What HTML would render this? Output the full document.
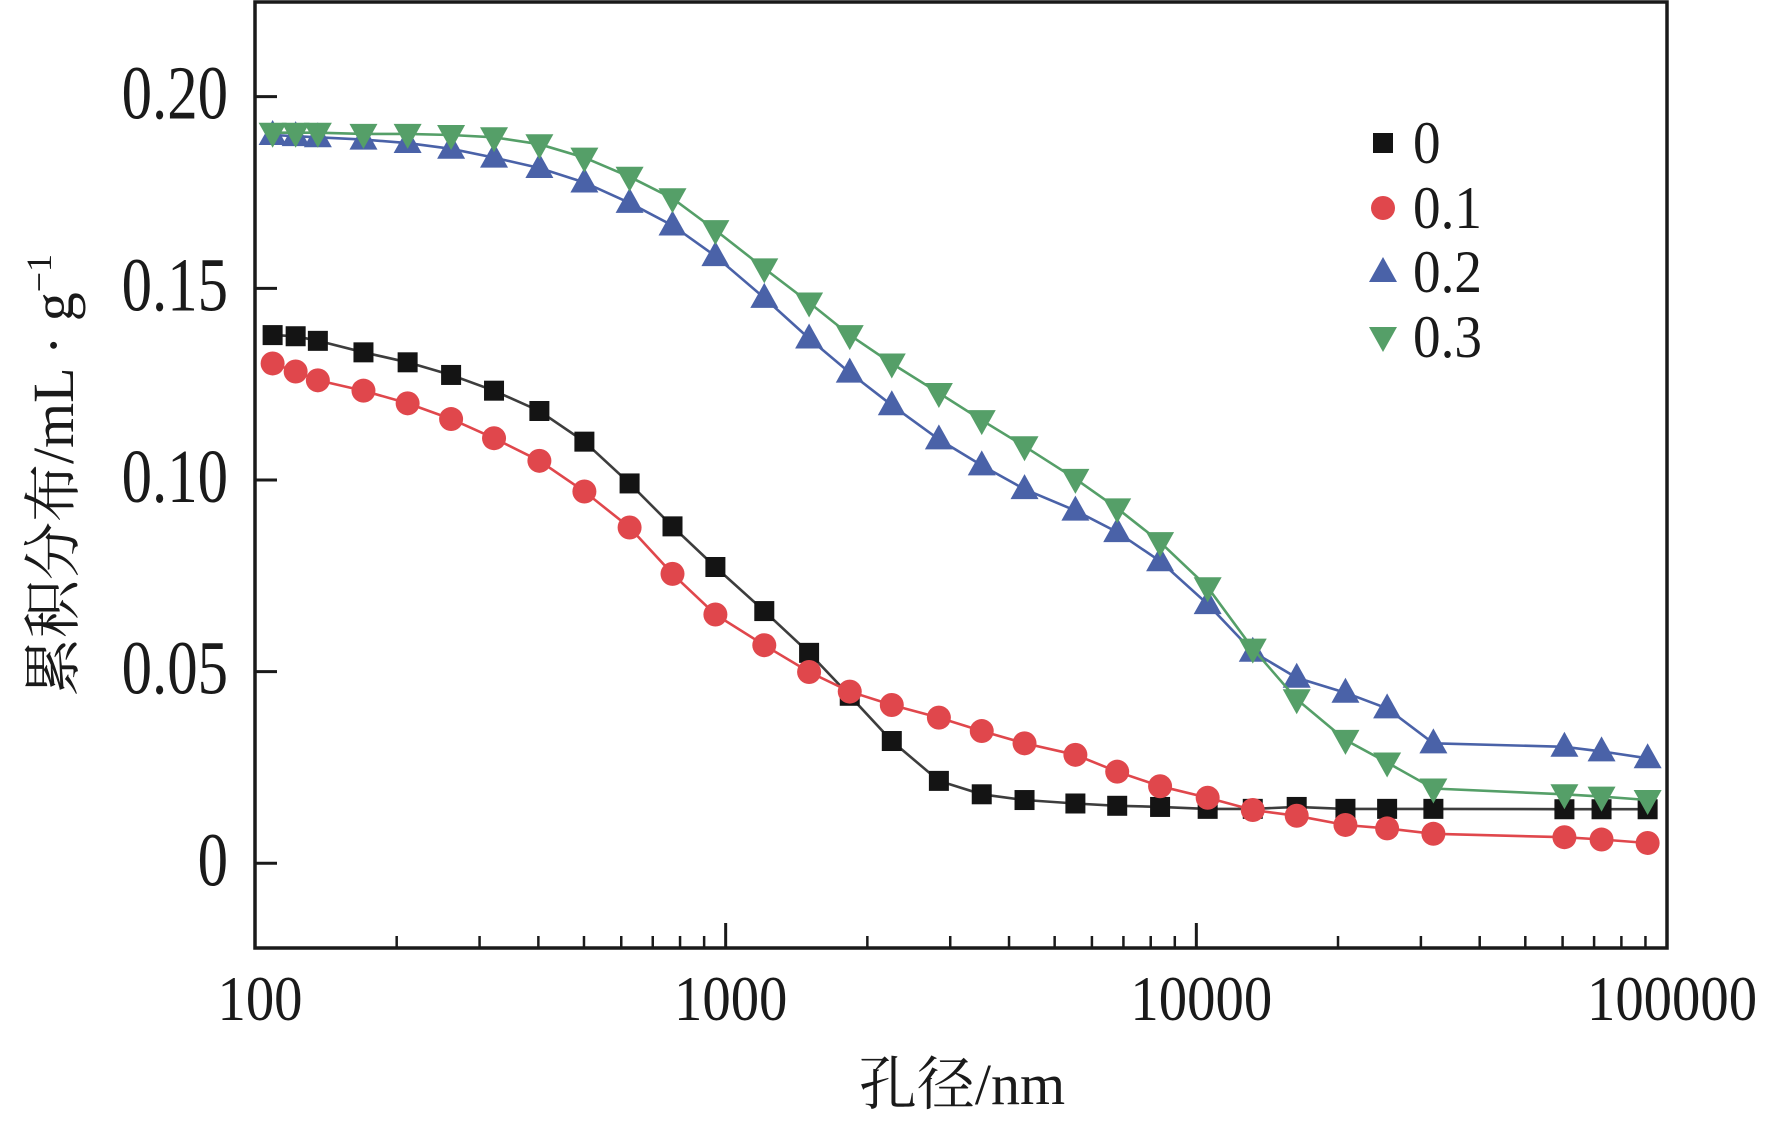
<!DOCTYPE html>
<html><head><meta charset="utf-8"><style>
html,body{margin:0;padding:0;background:#fff;}
svg text{font-family:"Liberation Serif","Noto Serif CJK SC",serif;fill:#1a1a1a;}
</style></head><body>
<svg id="chart" width="1771" height="1121" viewBox="0 0 1771 1121" xmlns="http://www.w3.org/2000/svg">
<g id="marks"></g>
<g id="axes"></g>
</svg>
<script>
const poreSizes=[109,122,136,170,211,261,322,402,501,625,771,951,1208,1504,1835,2254,2838,3500,4315,5534,6790,8375,10570,13180,16340,20740,25430,31890,60540,72600,90960];
const series0=[.1378,.1375,.1363,.1333,.1307,.1274,.1233,.118,.110,.0991,.0879,.0773,.0658,.0549,.0437,.0319,.0215,.018,.0165,.0156,.015,.0147,.0142,.0142,.0147,.0142,.0142,.0142,.0141,.0141,.0141];
const series01=[.1304,.1283,.126,.1233,.120,.1159,.1109,.105,.097,.0876,.0755,.0649,.0569,.0499,.0448,.0413,.038,.0345,.0313,.0283,.0239,.0201,.0171,.0139,.0124,.010,.0091,.0077,.0068,.0062,.0053];
const series02=[.190,.1897,.1894,.1888,.1879,.1864,.1841,.1814,.1776,.1723,.1664,.1584,.1475,.1369,.128,.1195,.1106,.1038,.0976,.092,.0864,.0788,.0676,.0552,.0484,.0445,.0404,.0313,.0304,.0292,.0274];
const series03=[.1906,.1906,.1906,.1903,.1903,.190,.1894,.1876,.1841,.1791,.1735,.1652,.1552,.1463,.1378,.1304,.1227,.1156,.1088,.1003,.0926,.0838,.072,.056,.0428,.0322,.0263,.0195,.018,.0174,.0165];
const yTicks=[0,0.05,0.10,0.15,0.20];
const yTickLabels=["0","0.05","0.10","0.15","0.20"];
const xTicks=[100,1000,10000,100000];
const xTickLabels=["100","1000","10000","100000"];
const legendLabels=["0","0.1","0.2","0.3"];

const L=255,R=1667,T=2,B=948;
const xMin=2,xMax=5,yMin=-0.0221,yMax=0.2247;
function xs(v){return L+(Math.log10(v)-xMin)/(xMax-xMin)*(R-L);}
function ys(v){return B-(v-yMin)/(yMax-yMin)*(B-T);}
const NS="http://www.w3.org/2000/svg";
function mk(tag,attrs,parent){const e=document.createElementNS(NS,tag);for(const k in attrs)e.setAttribute(k,attrs[k]);parent.appendChild(e);return e;}
const marks=document.getElementById('marks'),axes=document.getElementById('axes');

const defs=[
 {vals:series0,line:"#3d3d3d",fill:"#141414",shape:"square",name:"series-0"},
 {vals:series01,line:"#e0474c",fill:"#e0474c",shape:"circle",name:"series-0-1"},
 {vals:series02,line:"#4a62a8",fill:"#4a62a8",shape:"up",name:"series-0-2"},
 {vals:series03,line:"#559f68",fill:"#559f68",shape:"down",name:"series-0-3"}];
function marker(shape,cx,cy,fill,parent){
 let e;
 if(shape==="square")e=mk('rect',{x:cx-10,y:cy-10,width:20,height:20,fill:fill},parent);
 else if(shape==="circle")e=mk('circle',{cx:cx,cy:cy,r:12,fill:fill},parent);
 else if(shape==="up")e=mk('polygon',{points:`${cx-14},${cy+10} ${cx+14},${cy+10} ${cx},${cy-15}`,fill:fill},parent);
 else e=mk('polygon',{points:`${cx-14},${cy-10} ${cx+14},${cy-10} ${cx},${cy+15}`,fill:fill},parent);
 return e;
}
defs.forEach(d=>{
 const g=mk('g',{},marks);
 
 
 const pts=d.vals.map((v,i)=>xs(poreSizes[i]).toFixed(1)+","+ys(v).toFixed(1)).join(" ");
 const pl=mk('polyline',{points:pts,fill:"none",stroke:d.line,"stroke-width":2.6},g);
 
 
 d.vals.forEach((v,i)=>{
  const m=marker(d.shape,xs(poreSizes[i]),ys(v),d.fill,g);
  
  
 });
});

const fr=mk('rect',{x:L,y:T,width:R-L,height:B-T,fill:"none",stroke:"#1a1a1a","stroke-width":3.5},axes);


yTicks.forEach((v,i)=>{
 const y=ys(v);
 const t=mk('line',{x1:L,y1:y,x2:L+22,y2:y,stroke:"#1a1a1a","stroke-width":3},axes);
 
 
 const tx=mk('text',{x:0,y:0,"text-anchor":"end","font-size":76,transform:`translate(228,${(y+22).toFixed(1)}) scale(0.8,1)`},axes);
 tx.textContent=yTickLabels[i];
 
 
});
for(let d=2;d<5;d++){for(let k=2;k<10;k++){const v=k*Math.pow(10,d);
 const x=xs(v);const t=mk('line',{x1:x,y1:B,x2:x,y2:B-12,stroke:"#1a1a1a","stroke-width":2.5},axes);
 
 }}
xTicks.forEach((v,i)=>{
 const x=xs(v);
 const t=mk('line',{x1:x,y1:B,x2:x,y2:B-25,stroke:"#1a1a1a","stroke-width":3},axes);
 
 
 const tx=mk('text',{x:0,y:0,"text-anchor":"middle","font-size":63,transform:`translate(${(x+5).toFixed(1)},1020) scale(0.9,1)`},axes);
 tx.textContent=xTickLabels[i];
 
 
});
const lg=mk('g',{},axes);


const ly=[143,208,272,337];
defs.forEach((d,i)=>{
 const m=marker(d.shape,1383,ly[i],d.fill,lg);
 
 
 const tx=mk('text',{x:0,y:0,"font-size":60,transform:`translate(1413,${ly[i]+20}) scale(0.92,1)`},lg);
 tx.textContent=legendLabels[i];
 
 
});
const yt=mk('text',{x:0,y:0,"text-anchor":"middle","font-size":58,transform:"translate(73,475) rotate(-90)"},axes);
yt.innerHTML='累积分布/mL · g<tspan dy="-22" font-size="36">−1</tspan>';


const xt=mk('text',{x:962,y:1104,"text-anchor":"middle","font-size":58},axes);
xt.textContent='孔径/nm';


</script>
</body></html>
